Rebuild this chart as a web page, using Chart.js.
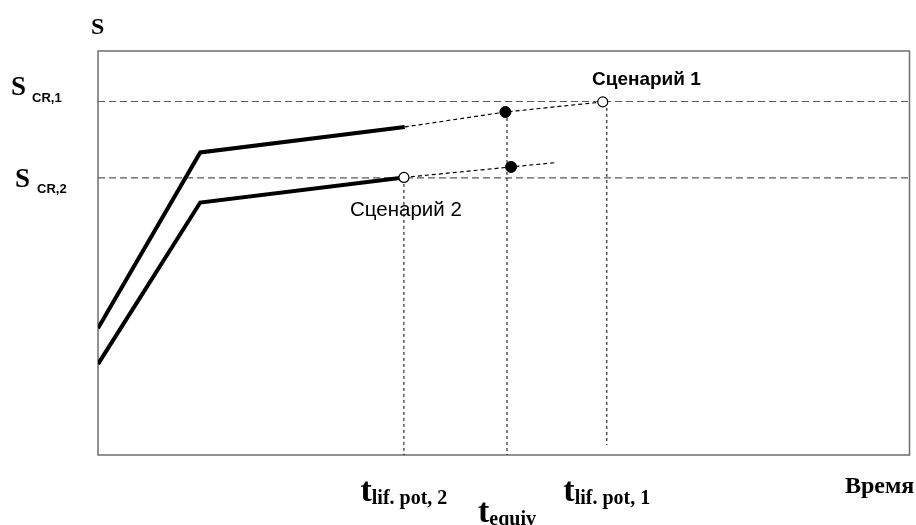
<!DOCTYPE html>
<html>
<head>
<meta charset="utf-8">
<script src="https://cdn.jsdelivr.net/npm/chart.js@4.4.1/dist/chart.umd.min.js"></script>
<style>
  html, body { margin: 0; padding: 0; background: #ffffff; }
  #wrap { width: 916px; height: 525px; position: relative; }
</style>
</head>
<body>
<div id="wrap"><canvas id="c" width="916" height="525"></canvas></div>
<script>
// ---- data (time units 0..100, S units 0..100) ----
const scenario1Solid = [[0, 31.4], [12.6, 74.9], [37.8, 81.2]];
const scenario1Dashed = [[37.8, 81.2], [50.2, 84.9], [62.2, 87.4]];
const scenario2Solid = [[0, 22.5], [12.6, 62.5], [37.7, 68.7]];
const scenario2Dashed = [[37.7, 68.7], [50.9, 71.3], [56.5, 72.4]];
const filledPoints = [[50.2, 84.9], [50.9, 71.3]];
const openPoints = [[37.7, 68.7], [62.2, 87.4]];
const criticalLevels = [87.5, 68.6];          // S_CR,1 , S_CR,2
const criticalLabels = ['CR,1', 'CR,2'];
const timeMarks = [37.7, 50.4, 62.7];         // t_lif.pot,2 , t_equiv , t_lif.pot,1
const timeTops = [68.6, 84.9, 87.4];
const timeBottoms = [0, 0, 2.5];
const timeSubs = ['lif. pot, 2', 'equiv', 'lif. pot, 1'];
const scenarioNames = ['Сценарий 1', 'Сценарий 2'];
const xAxisName = 'Время';
const yAxisName = 'S';

const pts = a => a.map(p => ({x: p[0], y: p[1]}));

const datasets = [];
criticalLevels.forEach(v => datasets.push({
  data: [{x: 0, y: v}, {x: 100, y: v}], showLine: true, pointRadius: 0,
  borderColor: '#5a5a5a', borderWidth: 1.2, borderDash: [7, 4], order: 10
}));
timeMarks.forEach((t, i) => datasets.push({
  data: [{x: t, y: timeTops[i]}, {x: t, y: timeBottoms[i]}], showLine: true, pointRadius: 0,
  borderColor: '#000', borderWidth: 1, borderDash: [3, 3], order: 9
}));
[scenario1Dashed, scenario2Dashed].forEach(a => datasets.push({
  data: pts(a), showLine: true, pointRadius: 0,
  borderColor: '#000', borderWidth: 1.2, borderDash: [4, 3], order: 8
}));
[scenario1Solid, scenario2Solid].forEach(a => datasets.push({
  data: pts(a), showLine: true, pointRadius: 0,
  borderColor: '#000', borderWidth: 4, borderCapStyle: 'butt', borderJoinStyle: 'miter', order: 7
}));
datasets.push({
  data: pts(filledPoints), showLine: false, pointRadius: 5.5,
  pointBackgroundColor: '#000', pointBorderColor: '#000', pointBorderWidth: 1, order: 2
});
datasets.push({
  data: pts(openPoints), showLine: false, pointRadius: 5,
  pointBackgroundColor: '#fff', pointBorderColor: '#000', pointBorderWidth: 1.2, order: 1
});

const labelsPlugin = {
  id: 'labels',
  beforeDatasetsDraw(chart) {
    const {ctx, chartArea: a} = chart;
    ctx.save();
    ctx.strokeStyle = '#6e6e6e';
    ctx.lineWidth = 1.5;
    ctx.strokeRect(a.left, a.top, a.right - a.left, a.bottom - a.top);
    ctx.restore();
  },
  afterDraw(chart) {
    const {ctx, scales: {x, y}} = chart;
    ctx.save();
    ctx.fillStyle = '#000';
    ctx.textBaseline = 'alphabetic';
    ctx.textAlign = 'left';
    // y axis name
    ctx.font = 'bold 24px "Liberation Serif"';
    ctx.fillText(yAxisName, 91, 34);
    // critical level labels
    const sX = [11, 15], sBase = [95, 187], subX = [32, 37], subBase = [102, 193];
    criticalLabels.forEach((lab, i) => {
      ctx.font = 'bold 27px "Liberation Serif"';
      ctx.fillText('S', sX[i], sBase[i]);
      ctx.font = 'bold 13px "Liberation Sans"';
      ctx.fillText(lab, subX[i], subBase[i]);
    });
    // scenario names
    ctx.font = 'bold 19px "Liberation Sans"';
    ctx.fillText(scenarioNames[0], 592, 85);
    ctx.font = '20.5px "Liberation Sans"';
    ctx.fillText(scenarioNames[1], 350, 216);
    // time labels
    const tBase = [501, 522, 501];
    timeSubs.forEach((s, i) => {
      ctx.font = 'bold 34px "Liberation Serif"';
      const wT = ctx.measureText('t').width;
      ctx.font = 'bold 20px "Liberation Serif"';
      const wS = ctx.measureText(s).width;
      const cx = x.getPixelForValue(timeMarks[i]);
      const left = cx - (wT + wS) / 2;
      ctx.font = 'bold 34px "Liberation Serif"';
      ctx.fillText('t', left, tBase[i]);
      ctx.font = 'bold 20px "Liberation Serif"';
      ctx.fillText(s, left + wT, tBase[i] + 3);
    });
    // x axis name
    ctx.font = 'bold 24px "Liberation Serif"';
    ctx.fillText(xAxisName, 845, 493);
    ctx.restore();
  }
};

new Chart(document.getElementById('c'), {
  type: 'scatter',
  data: {datasets},
  options: {
    responsive: false,
    animation: false,
    events: [],
    layout: {padding: {left: 98, top: 51, right: 2, bottom: 70}},
    plugins: {legend: {display: false}, tooltip: {enabled: false}},
    scales: {
      x: {type: 'linear', min: 0, max: 100, display: false},
      y: {type: 'linear', min: 0, max: 100, display: false}
    }
  },
  plugins: [labelsPlugin]
});
</script>
</body>
</html>
